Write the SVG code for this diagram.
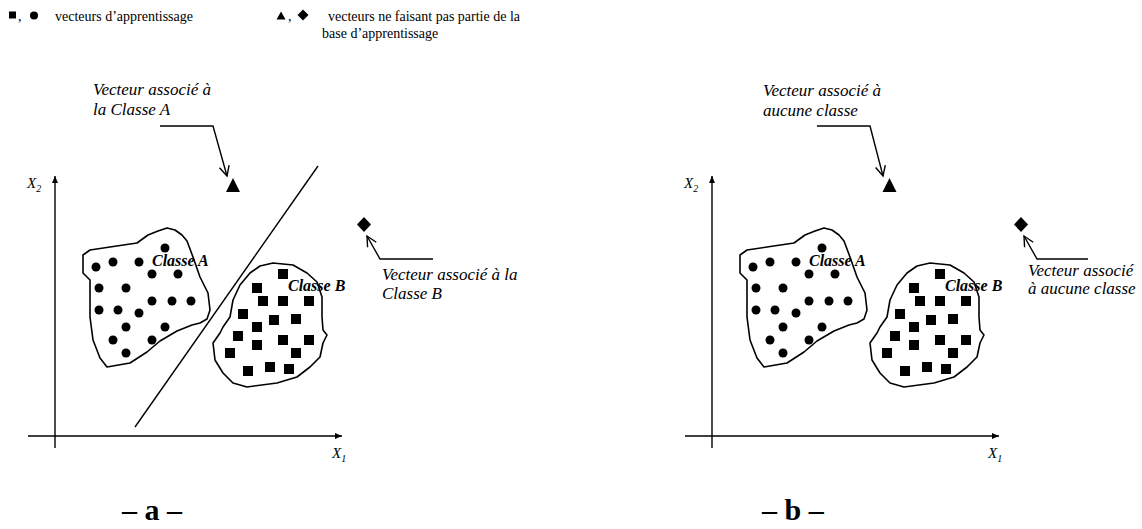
<svg xmlns="http://www.w3.org/2000/svg" width="1142" height="529" viewBox="0 0 1142 529">
<style>
text{font-family:"Liberation Serif","Times New Roman",serif;fill:#000}
.lg{font-size:14px}
.lab{font-size:17px;font-style:italic}
.cls{font-size:16px;font-style:italic;font-weight:bold}
.ax{font-size:15px;font-style:italic}
.sub{font-size:10px;font-style:italic}
.cap{font-size:30px;font-weight:bold}
.ln{stroke:#000;stroke-width:1.4;fill:none}
.blob{stroke:#000;stroke-width:1.6;fill:none;stroke-linejoin:round}
</style>
<defs>
<marker id="open" markerUnits="userSpaceOnUse" markerWidth="14" markerHeight="14" refX="11" refY="6" orient="auto">
<path d="M1,1 L11,6 L1,11" fill="none" stroke="#000" stroke-width="1.4"/>
</marker>
<marker id="fill" markerUnits="userSpaceOnUse" markerWidth="8" markerHeight="8" refX="7" refY="3" orient="auto">
<path d="M0,0 L7,3 L0,6 Z" fill="#000"/>
</marker>
<path id="blobA" d="M148,235 L158,231 L167,228 L175,230 L182,235 L187,241 L193,257 L200,277 L208,293 L210,310 L207,319 L200,323 L192,325 L177,331 L160,341 L147,352 L130,363 L107,367 L100,358 L93,340 L90,317 L90,280 L83,273 L83,255 L90,250 L110,247 L137,243 Z"/>
<path id="blobB" d="M260,266 L273,263 L293,265 L307,273 L317,282 L322,297 L322,317 L323,330 L327,335 L323,343 L320,357 L310,367 L297,377 L277,383 L247,387 L233,383 L223,373 L215,360 L213,343 L220,333 L223,327 L230,317 L233,300 L240,285 L250,273 Z"/>
<g id="dotsA">
<circle cx="165" cy="248" r="4.5"/><circle cx="96" cy="267" r="4.5"/><circle cx="113" cy="262" r="4.5"/><circle cx="139" cy="262" r="4.5"/>
<circle cx="152" cy="274" r="4.5"/><circle cx="178" cy="274" r="4.5"/><circle cx="99" cy="288" r="4.5"/><circle cx="126" cy="288" r="4.5"/>
<circle cx="152" cy="301" r="4.5"/><circle cx="172" cy="301" r="4.5"/><circle cx="191" cy="301" r="4.5"/><circle cx="99" cy="310" r="4.5"/>
<circle cx="118" cy="310" r="4.5"/><circle cx="139" cy="313" r="4.5"/><circle cx="126" cy="327" r="4.5"/><circle cx="165" cy="327" r="4.5"/>
<circle cx="113" cy="340" r="4.5"/><circle cx="152" cy="340" r="4.5"/><circle cx="126" cy="353" r="4.5"/>
</g>
<g id="sqB">
<rect x="278" y="269" width="10" height="10"/><rect x="252" y="283" width="10" height="10"/><rect x="258" y="296" width="10" height="10"/>
<rect x="278" y="296" width="10" height="10"/><rect x="304" y="296" width="10" height="10"/><rect x="238" y="309" width="10" height="10"/>
<rect x="269" y="315" width="10" height="10"/><rect x="291" y="314" width="10" height="10"/><rect x="252" y="322" width="10" height="10"/>
<rect x="233" y="331" width="10" height="10"/><rect x="278" y="335" width="10" height="10"/><rect x="304" y="335" width="10" height="10"/>
<rect x="252" y="340" width="10" height="10"/><rect x="225" y="348" width="10" height="10"/><rect x="291" y="348" width="10" height="10"/>
<rect x="243" y="366" width="10" height="10"/><rect x="265" y="362" width="10" height="10"/><rect x="284" y="364" width="10" height="10"/>
</g>
</defs>

<g id="legend">
<rect x="9" y="11.5" width="7" height="7"/>
<text class="lg" x="18" y="21">,</text>
<circle cx="34" cy="15.5" r="4"/>
<text class="lg" x="55" y="21">vecteurs d’apprentissage</text>
<path d="M276.5,19.5 L281,11.5 L285.5,19.5 Z"/>
<text class="lg" x="288" y="21">,</text>
<path d="M303,9.5 L308.5,15 L303,20.5 L297.5,15 Z"/>
<text class="lg" x="328" y="21">vecteurs ne faisant pas partie de la</text>
<text class="lg" x="322" y="38">base d’apprentissage</text>
</g>

<g id="panel-a">
<g id="axes-a">
<line class="ln" x1="55" y1="448" x2="55" y2="176" marker-end="url(#fill)"/>
<line class="ln" x1="28" y1="436" x2="342" y2="436" marker-end="url(#fill)"/>
<text class="ax" x="27" y="188">X<tspan class="sub" dy="4">2</tspan></text>
<text class="ax" x="332" y="458">X<tspan class="sub" dy="4">1</tspan></text>
</g>
<g id="classA-a">
<use href="#blobA" class="blob"/>
<use href="#dotsA"/>
<text class="cls" x="152" y="266">Classe A</text>
</g>
<g id="classB-a">
<use href="#blobB" class="blob"/>
<use href="#sqB"/>
<text class="cls" x="288" y="291">Classe B</text>
</g>
<g id="triangle-a"><path d="M233,178 L240,192 L226,192 Z"/></g>
<g id="diamond-a"><path d="M364,217 L371,224.5 L364,232 L357,224.5 Z"/></g>
<g id="label-tri-a">
<text class="lab" x="93" y="95">Vecteur associé à</text>
<text class="lab" x="93" y="115">la Classe A</text>
</g>
<g id="label-dia-a">
<text class="lab" x="382" y="280">Vecteur associé à la</text>
<text class="lab" x="382" y="299">Classe B</text>
</g>
<text class="cap" x="122" y="520">– a –</text>
</g>

<g id="panel-b">
<g id="axes-b">
<line class="ln" x1="712" y1="448" x2="712" y2="176" marker-end="url(#fill)"/>
<line class="ln" x1="685" y1="436" x2="999" y2="436" marker-end="url(#fill)"/>
<text class="ax" x="684" y="188">X<tspan class="sub" dy="4">2</tspan></text>
<text class="ax" x="988" y="458">X<tspan class="sub" dy="4">1</tspan></text>
</g>
<g id="classA-b" transform="translate(657,0)">
<use href="#blobA" class="blob"/>
<use href="#dotsA"/>
<text class="cls" x="152" y="266">Classe A</text>
</g>
<g id="classB-b" transform="translate(657,0)">
<use href="#blobB" class="blob"/>
<use href="#sqB"/>
<text class="cls" x="288" y="291">Classe B</text>
</g>
<g id="triangle-b"><path d="M889.5,178 L896.5,192 L882.5,192 Z"/></g>
<g id="diamond-b"><path d="M1021,217 L1028,224.5 L1021,232 L1014,224.5 Z"/></g>
<g id="label-tri-b">
<text class="lab" x="763" y="96">Vecteur associé à</text>
<text class="lab" x="763" y="116">aucune classe</text>
</g>
<g id="label-dia-b">
<text class="lab" x="1028" y="276">Vecteur associé</text>
<text class="lab" x="1028" y="294">à aucune classe</text>
</g>
<text class="cap" x="762" y="520">– b –</text>
</g>

<g id="connectors">
<line class="ln" x1="318" y1="166" x2="135" y2="427"/>
<polyline class="ln" points="160,126 213,126 227,176" marker-end="url(#open)"/>
<polyline class="ln" points="433,259 380,259 367,236" marker-end="url(#open)"/>
<polyline class="ln" points="817,126 870,126 883,176" marker-end="url(#open)"/>
<polyline class="ln" points="1088,259 1037,259 1024,236" marker-end="url(#open)"/>
</g>
</svg>
